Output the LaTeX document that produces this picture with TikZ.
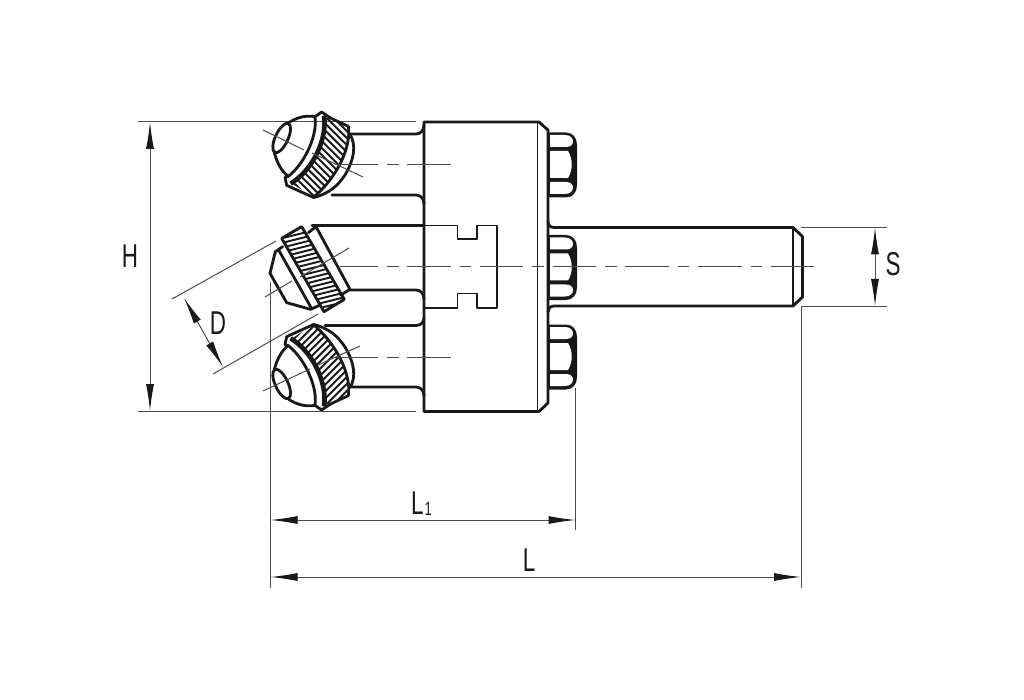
\documentclass[tikz,border=0pt]{standalone}
\usepackage{fontspec}
\usetikzlibrary{arrows.meta}
\newfontfamily\dimfont[FakeStretch=0.68]{Liberation Sans}
\definecolor{ink}{gray}{0.1}
\definecolor{thin}{gray}{0.3}
\tikzset{
  heavy/.style={draw=ink,line width=2.8pt,line join=round,line cap=round},
  medium/.style={draw=ink,line width=1.9pt,line join=round,line cap=round},
  hatchline/.style={draw=ink,line width=1.9pt},
  thinline/.style={draw=thin,line width=1pt},
  axisline/.style={draw=thin,line width=1pt,dash pattern=on 43.5pt off 9pt on 11.5pt off 8.7pt},
  dimline/.style={draw=thin,line width=1pt,{Latex[length=27pt,width=8pt,color=ink]}-{Latex[length=27pt,width=8pt,color=ink]}},
  dimlabel/.style={inner sep=0pt,text=ink,font=\dimfont\fontsize{33}{33}\selectfont},
}
\newcommand{\knurlhead}{%
  \begin{scope}
    \clip (222,50) .. controls (232,110) and (195,205) .. (125,250) -- (190,292) .. controls (260,235) and (305,140) .. (295,79) -- cycle;
    \foreach \q in {-160,-139,...,200} {\draw[hatchline] (0,-\q) -- (400,400-\q);}
  \end{scope}
  \draw[heavy] (95,114) [rotate around={65:(95,114)}] ellipse [x radius=48,y radius=19];
  \draw[heavy] (115,69) .. controls (135,55) and (165,44) .. (195,50);
  \draw[heavy] (195,52) .. controls (203,105) and (165,190) .. (115,229);
  \draw[heavy] (73,158) .. controls (82,190) and (95,215) .. (115,229) -- (105,232) -- (110,256) -- (145,272);
  \draw[heavy] (195,50) -- (215,36) -- (240,53);
  \draw[draw=ink,line width=4.6pt] (222,47) .. controls (232,110) and (195,205) .. (122,251);
  \draw[heavy] (237,52) -- (295,79) .. controls (305,140) and (260,235) .. (190,292) -- (145,272);
  \draw[heavy] (300,104) .. controls (320,135) and (312,180) .. (285,225) .. controls (265,255) and (240,280) .. (190,293);
}
\begin{document}
\begin{tikzpicture}[x=1pt,y=-1pt]
\useasboundingbox[fill=white] (0,0) rectangle (1024,700);
% named reference points
\coordinate (hT) at (150,122); \coordinate (hB) at (150,411);
\coordinate (hTl) at (138,122); \coordinate (hTr) at (416,122);
\coordinate (hBl) at (138,411); \coordinate (hBr) at (416,411);
\coordinate (sT) at (875,227.5); \coordinate (sB) at (875,306);
\coordinate (sTl) at (801,227.5); \coordinate (sTr) at (887,227.5);
\coordinate (sBl) at (801,306); \coordinate (sBr) at (887,306);
\coordinate (xLt) at (270.5,282); \coordinate (xLb) at (270.5,588);
\coordinate (xAt) at (575.5,388); \coordinate (xAb) at (575.5,530);
\coordinate (xBb) at (801,588);
\coordinate (l1a) at (270.5,520); \coordinate (l1b) at (575.5,520);
\coordinate (la) at (270.5,577); \coordinate (lb) at (801,577);
\coordinate (dA) at (184,298); \coordinate (dB) at (223,367);
\coordinate (dAa) at (172,299); \coordinate (dAb) at (276,241);
\coordinate (dBa) at (213,374); \coordinate (dBb) at (318,314);
% extension and dimension lines
\draw[thinline] (hTl) -- (hTr); \draw[thinline] (hBl) -- (hBr);
\draw[thinline] (sTl) -- (sTr); \draw[thinline] (sBl) -- (sBr);
\draw[thinline] (xLt) -- (xLb); \draw[thinline] (xAt) -- (xAb);
\draw[thinline] (sBl) -- (xBb);
\draw[thinline] (dAa) -- (dAb); \draw[thinline] (dBa) -- (dBb);
\draw[dimline] (hT) -- (hB);
\draw[dimline] (sT) -- (sB);
\draw[dimline] (l1a) -- (l1b);
\draw[dimline] (la) -- (lb);
\draw[dimline] (dA) -- (dB);
\node[dimlabel] (labH) at (130,256) {H};
\node[dimlabel] (labS) at (893,264) {S};
\node[dimlabel] (labD) at (218,323) {D};
\node[dimlabel] (labL) at (529,560) {L};
\node[dimlabel,anchor=base west] (labLa) at (411,514) {L\kern1pt\raisebox{-1pt}{\fontsize{19}{19}\selectfont 1}};
% arms
\draw[heavy] (350,134) -- (416,134) .. controls (421,134) and (424,130) .. (424,125);
\draw[heavy] (332,195) -- (416,195) .. controls (421,195) and (424,199) .. (424,204);
\draw[heavy] (312,225.5) -- (424,225.5);
\draw[heavy] (350,290) -- (416,290) .. controls (421,290) and (424,294) .. (424,299);
\draw[heavy] (325,325.5) -- (416,325.5) .. controls (421,325.5) and (424,322) .. (424,318);
\draw[heavy] (350,387) -- (416,387) .. controls (421,387) and (424,391) .. (424,396);
% body
\draw[heavy] (548,130) -- (539,122) -- (424,122) -- (424,411.5) -- (539,411.5) -- (548,403) -- cycle;
\draw[medium] (537.5,122) -- (537.5,411.5);
% T-slot
\draw[medium] (424,225.5) -- (457.5,225.5) -- (457.5,239) -- (477,239) -- (477,225.5) -- (497,225.5) -- (497,308) -- (477,308) -- (477,293.5) -- (457.5,293.5) -- (457.5,308) -- (424,308);
% shaft
\draw[heavy] (548,221) .. controls (548,225) and (550,227.5) .. (554,227.5) -- (793,227.5) -- (802.5,236.5) -- (802.5,297) -- (793,306) -- (554,306) .. controls (550,306) and (548,309) .. (548,312);
\draw[medium] (793,227.5) -- (793,306);
% bolts
\foreach \yc in {165,267.5,357} {
  \fill[ink] (548,\yc-32.5) -- (566,\yc-32.5) .. controls (573,\yc-32.5) and (577,\yc-27) .. (577,\yc-20) -- (577,\yc+20) .. controls (577,\yc+27) and (573,\yc+32.5) .. (566,\yc+32.5) -- (548,\yc+32.5) -- cycle;
  \fill[white] (550,\yc-30) -- (565,\yc-30) .. controls (570,\yc-30) and (573,\yc-27) .. (573,\yc-23.5) .. controls (573,\yc-20) and (570,\yc-18) .. (566,\yc-18) -- (550,\yc-18) -- cycle;
  \fill[white] (550,\yc-14) -- (568,\yc-14) .. controls (573,\yc-6) and (573,\yc+5) .. (568,\yc+13) -- (550,\yc+13) -- cycle;
  \fill[white] (550,\yc+17) -- (566,\yc+17) .. controls (570,\yc+17) and (573,\yc+19) .. (573,\yc+22.5) .. controls (573,\yc+26) and (570,\yc+29) .. (565,\yc+29) -- (550,\yc+29) -- cycle;
}
% top head
\begin{scope}[shift={(250,100)},scale=1/3]
  \knurlhead
\end{scope}
% bottom head
\begin{scope}[shift={(250,422)},xscale=1/3,yscale=-1/3]
  \knurlhead
\end{scope}
% middle head
\begin{scope}[shift={(250,210)},scale=1/3]
  \begin{scope}
    \clip (95,85) -- (155,50) -- (283,268) -- (222,305) -- cycle;
    \foreach \i in {0,...,18} {\draw[hatchline] ({95+127*\i/18},{85+220*\i/18}) -- ({195+127*\i/18},{60+220*\i/18});}
  \end{scope}
  \draw[heavy] (95,85) -- (155,50) -- (283,268) -- (222,305) -- cycle;
  \draw[heavy] (175,68) -- (198,50) -- (300,238) -- (272,255);
  \draw[heavy] (86,120) -- (185,296);
  \draw[heavy] (98,110) -- (76,125) -- (60,190) -- (110,278) -- (182,298) -- (208,286);
\end{scope}
% centre lines
\draw[axisline] (334.5,165) -- (452,165);
\draw[axisline] (334.5,357) -- (452,357);
\draw[axisline,dash phase=5.5pt] (340,266.7) -- (815,266.7);
% head axes
\draw[thinline] (263,130) -- (304,150); \draw[thinline] (312,153) -- (363,177);
\draw[thinline] (349,248) -- (300,277); \draw[thinline] (292,281) -- (265,297);
\draw[thinline] (360,346) -- (318,365); \draw[thinline] (310,369) -- (263,391);
\end{tikzpicture}
\end{document}
